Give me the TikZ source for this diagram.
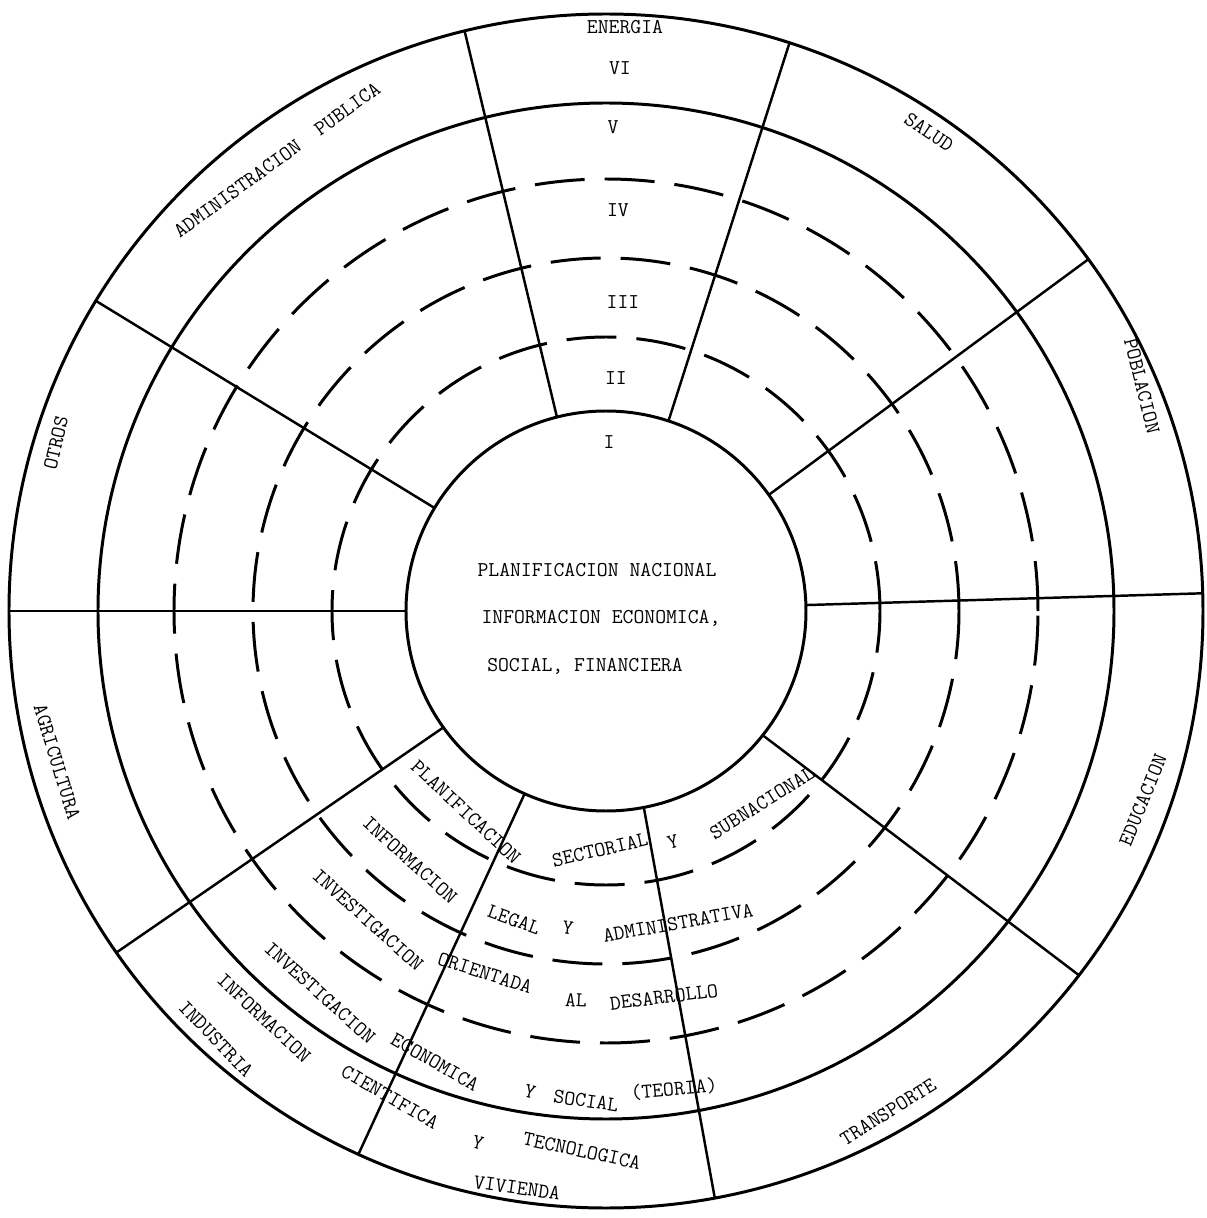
\documentclass[tikz,border=0pt]{standalone}
\usepackage{tikz}
\usetikzlibrary{calc}

\begin{document}
\begin{tikzpicture}[x=0.2mm, y=0.2mm,
		ring/.style={line width=1.7pt},
		dashring/.style={line width=1.7pt, dash pattern=on 1cm off 0.4cm},
		spoke/.style={line width=1.4pt},
		lbl/.style={font=\fontsize{12}{14}\selectfont\ttfamily, inner sep=0pt}]
	\useasboundingbox (-606,-607) rectangle (600,611);
	% draw solid circles
	\draw[ring] (0,0) circle (200);
	\draw[ring] (0,0) circle (508);
	\draw[ring] (0,0) circle (597);
	% draw dashed circles
	\foreach \r in {274,353,432}
		\draw[dashring] (0,0) circle (\r);
	% draw sector borders
	\foreach \a/\b in {104.2/103.7, 71.8/72.1, 35.5/36.1, 1.7/1.7, -38.4/-37.6,
			-79.1/-79.5, -114/-114.5, 215.6/214.9, 180/180, 149/148.7}
		\draw[spoke] (\a:200) -- (\b:597);
	
	% center
	\node[lbl] (nac) at (-9,41) {PLANIFICACION NACIONAL};
	\node[lbl] (eco) at (-5,-7) {INFORMACION ECONOMICA,};
	\node[lbl] (soc) at (-21,-55) {SOCIAL, FINANCIERA};
	
	% levels
	\node[lbl] (energia) at (19,584) {ENERGIA};
	\node[lbl] (lvVI) at (14,543) {VI};
	\node[lbl] (lvV) at (7,484) {V};
	\node[lbl] (lvIV) at (12,401) {IV};
	\node[lbl] (lvIII) at (17,309) {III};
	\node[lbl] (lvII) at (10,233) {II};
	\node[lbl] (lvI) at (3,169) {I};
	
	% sectors
	\node[lbl, rotate=36] (admin) at (-329,451) {ADMINISTRACION\ \ PUBLICA};
	\node[lbl, rotate=-34] (salud) at (323,479) {SALUD};
	\node[lbl, rotate=-76] (pobl) at (536,225) {POBLACION};
	\node[lbl, rotate=68] (educ) at (537,-189) {EDUCACION};
	\node[lbl, rotate=32] (transp) at (282,-501) {TRANSPORTE};
	\node[lbl, rotate=-8] (viv) at (-89,-577) {VIVIENDA};
	\node[lbl, rotate=-46] (indus) at (-390,-428) {INDUSTRIA};
	\node[lbl, rotate=-73] (agri) at (-549,-151) {AGRICULTURA};
	\node[lbl, rotate=77] (otros) at (-550,168) {OTROS};
	
	% ring II
	\node[lbl, rotate=-43] (planif) at (-140,-201) {PLANIFICACION};
	\node[lbl, rotate=13] (sector) at (-6,-239) {SECTORIAL};
	\node[lbl, rotate=15] (yII) at (67,-231) {Y};
	\node[lbl, rotate=32] (subnac) at (156,-192) {SUBNACIONAL};
	% ring III
	\node[lbl, rotate=-42] (infoIII) at (-196,-249) {INFORMACION};
	\node[lbl, rotate=-20] (legal) at (-92,-309) {LEGAL};
	\node[lbl, rotate=-8] (yIII) at (-38,-317) {Y};
	\node[lbl, rotate=10] (adminIII) at (72,-312) {ADMINISTRATIVA};
	% ring IV
	\node[lbl, rotate=-42] (invIV) at (-238,-309) {INVESTIGACION};
	\node[lbl, rotate=-18] (orient) at (-121,-362) {ORIENTADA};
	\node[lbl, rotate=-3] (al) at (-30,-389) {AL};
	\node[lbl, rotate=7] (desarr) at (58,-386) {DESARROLLO};
	% ring V
	\node[lbl, rotate=-42] (invV) at (-286,-382) {INVESTIGACION};
	\node[lbl, rotate=-30] (econ) at (-171,-451) {ECONOMICA};
	\node[lbl, rotate=-15] (yV) at (-76,-481) {Y};
	\node[lbl, rotate=-8] (social) at (-20,-490) {SOCIAL};
	\node[lbl, rotate=5] (teoria) at (68,-478) {(TEORIA)};
	% ring VI
	\node[lbl, rotate=-43] (infoVI) at (-342,-407) {INFORMACION};
	\node[lbl, rotate=-30] (cient) at (-216,-486) {CIENTIFICA};
	\node[lbl, rotate=-15] (yVI) at (-128,-532) {Y};
	\node[lbl, rotate=-12] (tecno) at (-24,-540) {TECNOLOGICA};
\end{tikzpicture}
\end{document}
